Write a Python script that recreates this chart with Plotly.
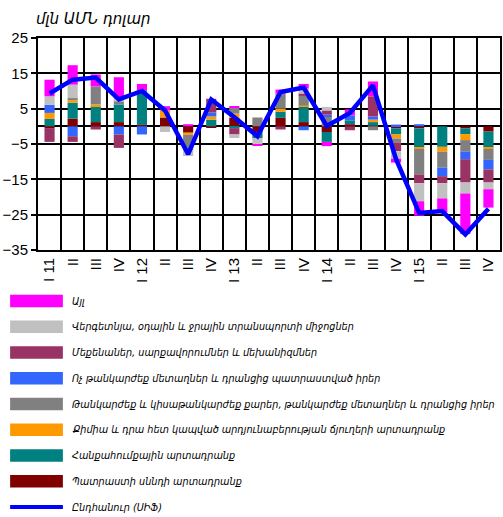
import plotly.graph_objects as go

# Quarters 2011-2015
quarters = ["I 11", "II", "III", "IV", "I 12", "II", "III", "IV", "I 13", "II",
            "III", "IV", "I 14", "II", "III", "IV", "I 15", "II", "III", "IV"]

# Contributions to export change by commodity group, mln USD
food = [-0.5, 2.2, 1.2, 1.2, 0.4, 2.5, -1.8, -0.3, 2.4, -1.8,
        2.4, 1.2, -1.6, 0.6, 0.2, -0.6, -0.6, 0.0, -0.6, -1.5]
mineral = [2.1, 4.5, 4.5, 5.0, 9.8, 0.0, 0.0, 1.9, -0.5, -1.6,
           1.7, 4.3, -2.8, 1.1, 1.0, -1.7, -5.4, -5.8, -1.6, -4.5]
chem = [1.7, 0.7, 0.5, 0.0, 0.0, 2.0, -0.6, 0.9, 1.2, 0.0,
        0.9, 0.4, 0.0, 0.0, 0.7, -1.15, -0.4, -1.4, -1.7, -0.4]
precious = [0.0, 0.6, 5.1, 0.9, 0.0, 0.0, -4.4, 0.0, 1.6, 2.5,
            4.3, 2.7, 2.8, 0.0, -1.1, -1.1, -7.2, -4.5, -3.3, -3.1]
metals = [2.3, -2.8, 0.0, -2.3, -2.3, 0.0, 0.0, 1.1, 0.0, 0.0,
          0.0, -1.1, 0.5, 1.4, 0.9, 0.5, 0.6, -2.4, -2.1, -2.7]
machinery = [-3.9, -1.6, -0.9, -3.8, 0.0, 0.0, 0.0, 3.9, -1.8, 0.0,
             -0.9, 0.7, 1.2, -1.1, 5.7, -2.5, -2.5, -2.0, -6.6, -3.7]
transport = [2.4, 3.8, 0.0, 0.8, 0.0, -1.6, -1.6, 0.0, -1.0, -1.6,
             0.0, 1.4, 1.0, 0.0, 0.0, -2.1, -5.1, -4.3, -3.1, -1.9]
other = [4.7, 5.5, 3.4, 6.0, 1.8, 1.2, 0.6, 0.0, 0.5, -0.4,
         1.1, 1.3, -1.2, 1.7, 4.2, -1.1, -4.1, -4.0, -11.5, -5.2]
total = [9.3, 13.2, 13.8, 7.6, 10.0, 4.5, -7.9, 7.6, 2.6, -2.8,
         9.7, 11.0, 0.1, 3.8, 11.6, -9.3, -24.5, -24.0, -30.6, -23.3]

# Series names and colours (stacking order from zero outwards)
series = [
    ("Պատրաստի սննդի արտադրանք", food, "#800000"),
    ("Հանքահումքային արտադրանք", mineral, "#008080"),
    ("Քիմիա և դրա հետ կապված արդյունաբերության ճյուղերի արտադրանք", chem, "#FF9900"),
    ("Թանկարժեք և կիսաթանկարժեք քարեր, թանկարժեք մետաղներ և դրանցից իրեր", precious, "#808080"),
    ("Ոչ թանկարժեք մետաղներ և դրանցից պատրաստված իրեր", metals, "#3366FF"),
    ("Մեքենաներ, սարքավորումներ և մեխանիզմներ", machinery, "#993366"),
    ("Վերգետնյա, օդային և ջրային տրանսպորտի միջոցներ", transport, "#C0C0C0"),
    ("Այլ", other, "#FF00FF"),
]
total_name = "Ընդհանուր (ՍԻՖ)"
total_color = "#0000FF"
unit_label = "մլն ԱՄՆ դոլար"

W, H = 503, 517
ML, MR, MT, MB = 38, 1, 38, 267
PW, PH = W - ML - MR, H - MT - MB

x = list(range(len(quarters)))

fig = go.Figure()
for name, vals, color in series:
    fig.add_trace(go.Bar(x=x, y=vals, name=name, marker=dict(color=color, line=dict(width=0)),
                         showlegend=False))
fig.add_trace(go.Scatter(x=x, y=total, name=total_name, mode="lines",
                         line=dict(color=total_color, width=4.5), showlegend=False))


def px_x(px):
    return (px - ML) / PW


def px_y(py):
    return (MT + PH - py) / PH


# Hand-drawn legend below the plot (wide swatches)
shapes = []
annotations = []
legend_font = dict(family="DejaVu Sans", size=9.7, color="black", style="italic")
row0, step = 301, 25.75
entries = list(reversed(series))
for i, (name, _, color) in enumerate(entries):
    cy = row0 + i * step
    shapes.append(dict(type="rect", xref="paper", yref="paper",
                       x0=px_x(10), x1=px_x(63), y0=px_y(cy - 6.3), y1=px_y(cy + 6.3),
                       fillcolor=color, line=dict(width=0)))
    annotations.append(dict(xref="paper", yref="paper", x=px_x(70), y=px_y(cy),
                            xanchor="left", yanchor="middle", text=name,
                            showarrow=False, font=legend_font))
cy = row0 + len(entries) * step
shapes.append(dict(type="line", xref="paper", yref="paper",
                   x0=px_x(10), x1=px_x(63), y0=px_y(cy), y1=px_y(cy),
                   line=dict(color=total_color, width=4)))
annotations.append(dict(xref="paper", yref="paper", x=px_x(70), y=px_y(cy),
                        xanchor="left", yanchor="middle", text=total_name,
                        showarrow=False, font=legend_font))

# Unit label above the axis
annotations.append(dict(xref="paper", yref="paper", x=px_x(34), y=px_y(19),
                        xanchor="left", yanchor="middle", text=unit_label,
                        showarrow=False,
                        font=dict(family="DejaVu Sans", size=15, color="black", style="italic")))

fig.update_layout(
    width=W, height=H,
    margin=dict(l=ML, r=MR, t=MT, b=MB, pad=0),
    barmode="relative",
    bargap=0.56,
    plot_bgcolor="white", paper_bgcolor="white",
    font=dict(family="Liberation Sans", size=15, color="black"),
    shapes=shapes,
    annotations=annotations,
    xaxis=dict(
        range=[-0.5, len(quarters) - 0.5],
        tickmode="array", tickvals=x, ticktext=quarters,
        tickangle=-90, ticks="", showgrid=False,
        showline=True, linecolor="black", linewidth=2, mirror=True,
        zeroline=False,
        tickfont=dict(size=15),
        minor=dict(tickmode="linear", tick0=0.5, dtick=1, showgrid=True,
                   gridcolor="black", gridwidth=2, ticks=""),
    ),
    yaxis=dict(
        range=[-35, 25], tick0=-35, dtick=10,
        showgrid=True, gridcolor="black", gridwidth=2,
        ticks="outside", ticklen=5, tickwidth=2, tickcolor="black",
        showline=True, linecolor="black", linewidth=2, mirror=True,
        zeroline=True, zerolinecolor="black", zerolinewidth=2,
        tickfont=dict(size=15),
    ),
)

fig.write_html("out.html")
